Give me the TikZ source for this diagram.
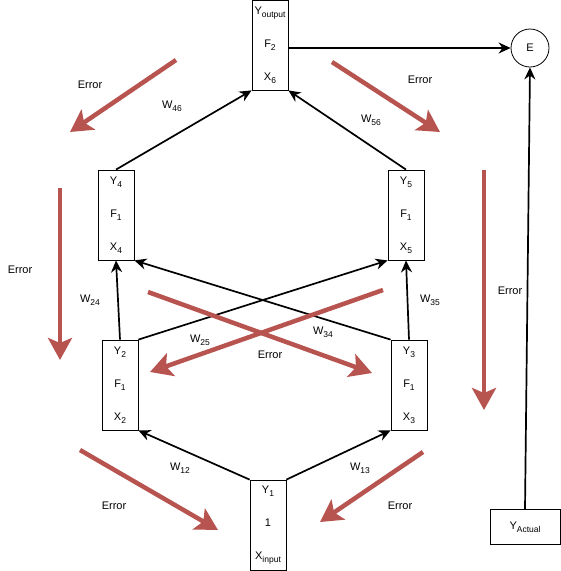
\documentclass[tikz,border=0pt]{standalone}
\usepackage{fontspec}
\setmainfont{Liberation Sans}
\usetikzlibrary{arrows.meta}
\definecolor{errred}{HTML}{B85450}
\newcommand{\lsub}[1]{\raisebox{-2.6pt}{\fontsize{8.5}{10}\selectfont #1}}
\begin{document}
\begin{tikzpicture}[x=1pt,y=-1pt,
  neuron/.style={draw,line width=0.8pt,minimum width=36pt,minimum height=90pt,inner sep=0pt,align=center,font=\fontsize{11}{33}\selectfont},
  wire/.style={line width=1.7pt,-{Stealth[length=12pt,width=11pt]}},
  errarrow/.style={errred,line width=4.5pt,-{Stealth[length=22pt,width=24pt,inset=5pt]}},
  lbl/.style={font=\fontsize{11}{13}\selectfont,inner sep=0pt}]
  \useasboundingbox (0,0) rectangle (561,571);
  % neurons
  \node[neuron] (out) at (270,45) {Y\lsub{output}\\F\lsub{2}\\X\lsub{6}};
  \node[neuron] (h4) at (116,215) {Y\lsub{4}\\F\lsub{1}\\X\lsub{4}};
  \node[neuron] (h5) at (406,215) {Y\lsub{5}\\F\lsub{1}\\X\lsub{5}};
  \node[neuron] (h2) at (120,385) {Y\lsub{2}\\F\lsub{1}\\X\lsub{2}};
  \node[neuron] (h3) at (409,385) {Y\lsub{3}\\F\lsub{1}\\X\lsub{3}};
  \node[neuron] (in) at (268,525) {Y\lsub{1}\\1\\X\lsub{input}};
  \node[draw,circle,line width=0.8pt,minimum size=38pt,inner sep=0pt,font=\fontsize{11}{13}\selectfont] (err) at (530,48) {E};
  \node[draw,line width=0.8pt,minimum width=70pt,minimum height=35pt,inner sep=0pt,font=\fontsize{11}{13}\selectfont] (act) at (525,527) {Y\lsub{Actual}};
  % weights
  \draw[wire] (in.north west) -- (h2.south east);
  \draw[wire] (in.north east) -- (h3.south west);
  \draw[wire] (h2.north) -- (h4.south);
  \draw[wire] (h3.north) -- (h5.south);
  \draw[wire] (h2.north east) -- (h5.south west);
  \draw[wire] (h3.north west) -- (h4.south east);
  \draw[wire] (h4.north) -- (out.south west);
  \draw[wire] (h5.north) -- (out.south east);
  \draw[wire] (out.east |- err.west) -- (err.west);
  \draw[wire] (act.north) -- (err.south);
  \node[lbl] (w46) at (172,106) {W\lsub{46}};
  \node[lbl] (w56) at (371,120) {W\lsub{56}};
  \node[lbl] (w24) at (90,300) {W\lsub{24}};
  \node[lbl] (w35) at (430,300) {W\lsub{35}};
  \node[lbl] (w25) at (200,340) {W\lsub{25}};
  \node[lbl] (w34) at (323,332) {W\lsub{34}};
  \node[lbl] (w12) at (180,468) {W\lsub{12}};
  \node[lbl] (w13) at (360,468) {W\lsub{13}};
  % error flow
  \draw[errarrow] (176,60) -- (70,132);
  \draw[errarrow] (332,62) -- (440,132);
  \draw[errarrow] (60,188) -- (60,360);
  \draw[errarrow] (484,170) -- (484,410);
  \draw[errarrow] (148,292) -- (372,373);
  \draw[errarrow] (383,290) -- (150,372);
  \draw[errarrow] (80,450) -- (218,530);
  \draw[errarrow] (423,452) -- (320,522);
  \node[lbl] (e1) at (90,85) {Error};
  \node[lbl] (e2) at (420,80) {Error};
  \node[lbl] (e3) at (20,270) {Error};
  \node[lbl] (e4) at (510,291) {Error};
  \node[lbl] (e5) at (270,355) {Error};
  \node[lbl] (e6) at (114,506) {Error};
  \node[lbl] (e7) at (400,506) {Error};
\end{tikzpicture}
\end{document}
